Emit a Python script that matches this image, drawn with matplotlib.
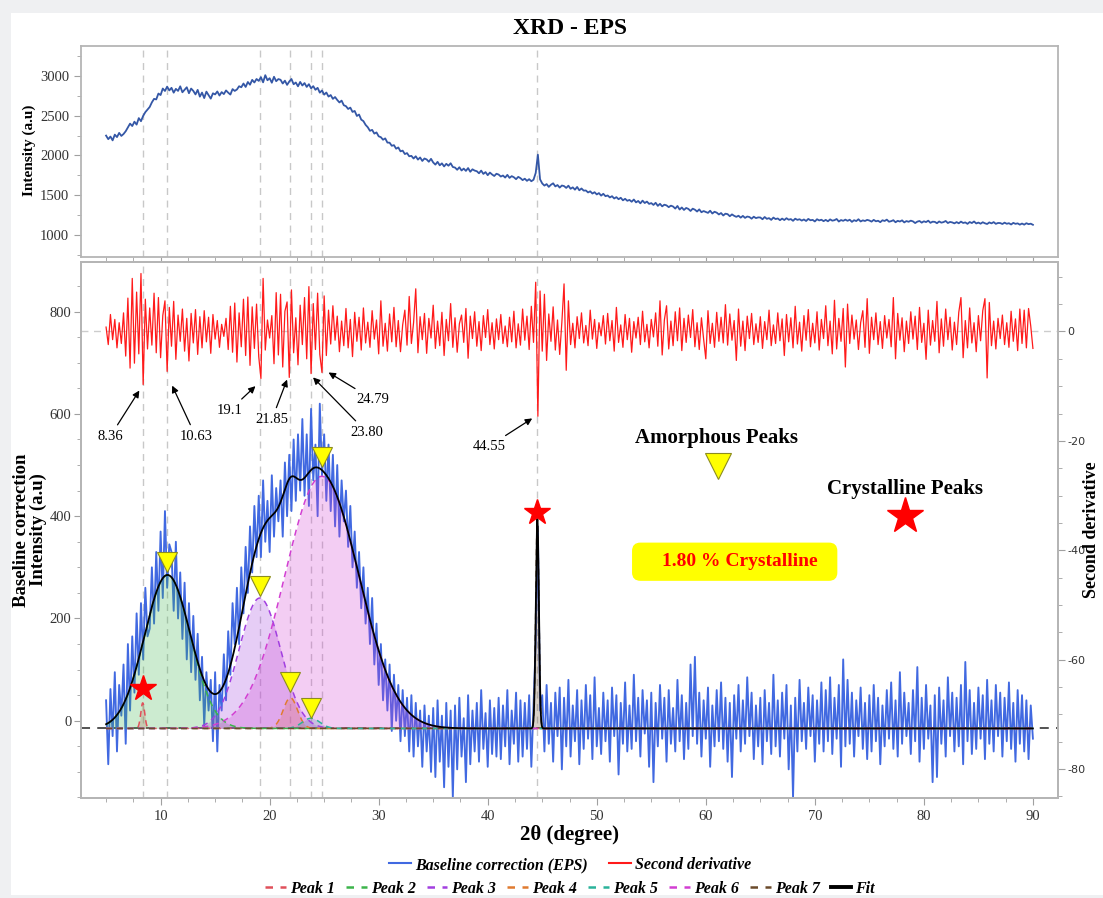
import numpy as np
import matplotlib
matplotlib.use("Agg")
import matplotlib.pyplot as plt
from matplotlib.lines import Line2D
from matplotlib.patches import Rectangle, FancyBboxPatch

plt.rcParams['font.family'] = ['Liberation Serif', 'DejaVu Serif']
plt.rcParams['axes.unicode_minus'] = False

# 2theta scan, 0.2 deg step (5 .. 90)
two_theta = np.round(5 + 0.2 * np.arange(426), 1)

# raw intensity (top panel)
raw_intensity = [
    2250, 2205, 2238, 2190, 2262, 2231, 2284, 2246, 2270, 2305,
    2352, 2401, 2370, 2425, 2388, 2470, 2431, 2498, 2545, 2577,
    2610, 2668, 2712, 2705, 2779, 2760, 2842, 2811, 2866, 2818,
    2851, 2790, 2838, 2812, 2870, 2795, 2826, 2858, 2783, 2842,
    2812, 2768, 2825, 2740, 2791, 2722, 2803, 2760, 2715, 2782,
    2768, 2805, 2754, 2797, 2772, 2818, 2790, 2766, 2835, 2812,
    2830, 2871, 2858, 2905, 2862, 2924, 2890, 2951, 2918, 2962,
    2938, 2985, 2920, 3010, 2946, 2972, 2915, 2990, 2934, 2961,
    2952, 2905, 2941, 2888, 2930, 2962, 2896, 2918, 2870, 2925,
    2880, 2911, 2862, 2897, 2845, 2872, 2826, 2851, 2790, 2818,
    2765, 2792, 2741, 2760, 2712, 2735, 2698, 2667, 2690, 2632,
    2620, 2585, 2602, 2548, 2560, 2497, 2515, 2451, 2432, 2385,
    2355, 2310, 2322, 2275, 2290, 2241, 2230, 2198, 2215, 2162,
    2161, 2122, 2130, 2085, 2101, 2052, 2061, 2018, 2030, 1990,
    1995, 1962, 1990, 1948, 1975, 1931, 1962, 1950, 1921, 1958,
    1912, 1885, 1920, 1876, 1901, 1862, 1895, 1871, 1902, 1855,
    1848, 1820, 1852, 1811, 1835, 1806, 1842, 1795, 1826, 1810,
    1802, 1776, 1810, 1768, 1791, 1752, 1785, 1761, 1742, 1770,
    1760, 1735, 1748, 1722, 1756, 1718, 1740, 1726, 1702, 1731,
    1715, 1690, 1708, 1681, 1702, 1676, 1695, 1780, 2010, 1700,
    1648, 1621, 1640, 1605, 1632, 1650, 1611, 1628, 1596, 1622,
    1615, 1592, 1620, 1581, 1599, 1570, 1604, 1562, 1585, 1558,
    1560, 1535, 1549, 1521, 1538, 1510, 1527, 1495, 1518, 1488,
    1497, 1472, 1488, 1459, 1476, 1450, 1468, 1436, 1455, 1430,
    1441, 1418, 1446, 1410, 1428, 1398, 1432, 1402, 1420, 1391,
    1401, 1378, 1405, 1366, 1392, 1360, 1381, 1372, 1350, 1369,
    1358, 1332, 1365, 1320, 1346, 1315, 1340, 1328, 1302, 1331,
    1318, 1295, 1322, 1286, 1301, 1290, 1278, 1305, 1270, 1292,
    1281, 1258, 1276, 1245, 1268, 1262, 1236, 1259, 1241, 1228,
    1242, 1218, 1240, 1215, 1232, 1226, 1205, 1230, 1212, 1221,
    1220, 1198, 1226, 1203, 1212, 1190, 1219, 1200, 1208, 1186,
    1206, 1188, 1211, 1192, 1200, 1178, 1205, 1190, 1198, 1181,
    1195, 1176, 1202, 1185, 1190, 1170, 1198, 1183, 1192, 1174,
    1190, 1172, 1196, 1180, 1186, 1201, 1169, 1188, 1178, 1193,
    1178, 1192, 1165, 1186, 1175, 1198, 1170, 1184, 1176, 1190,
    1182, 1168, 1190, 1172, 1179, 1161, 1185, 1176, 1193, 1167,
    1174, 1186, 1160, 1178, 1169, 1184, 1158, 1175, 1166, 1180,
    1171, 1150, 1168, 1176, 1155, 1172, 1162, 1180, 1153, 1167,
    1165, 1148, 1170, 1155, 1162, 1176, 1150, 1164, 1158, 1146,
    1162, 1147, 1168, 1151, 1158, 1140, 1163, 1150, 1170, 1145,
    1156, 1142, 1160, 1147, 1138, 1158, 1146, 1162, 1140, 1151,
    1150, 1138, 1155, 1141, 1148, 1132, 1152, 1140, 1146, 1130,
    1144, 1130, 1148, 1136, 1142, 1128,
]

# baseline corrected intensity (bottom panel, left axis)
baseline_corr = [
    40, -85, 62, -30, 95, -60, 70, 10, 110, -45,
    150, 20, 165, 55, 210, 90, 230, 120, 260, 165,
    180, 300, 190, 330, 215, 370, 240, 410, 260, 345,
    330, 215, 350, 200, 290, 160, 270, 120, 230, 95,
    205, 80, 170, 40, 125, -10, 95, 20, 80, -40,
    95, -60, 70, 20, 130, 40, 175, 90, 230, 150,
    260, 150, 300, 210, 340, 250, 380, 290, 420, 320,
    440, 320, 470, 350, 430, 330, 480, 360, 455, 390,
    470, 360, 505, 400, 520, 410, 550, 430, 560, 450,
    590, 440, 560, 420, 610, 470, 540, 400, 620, 480,
    560, 430, 540, 410, 520, 380, 500, 360, 470, 390,
    450, 340, 420, 300, 370, 260, 330, 220, 300, 190,
    260, 150, 240, 110, 190, 70, 150, 40, 120, 20,
    110, -20, 90, 0, 70, -40, 60, -30, 45, -60,
    50, -70, 35, -50, 20, -90, 30, -60, 10, -100,
    25, -110, 40, -80, 10, -130, 35, -90, 20, -150,
    30, -95, 45, -70, 5, -120, 50, -85, 20, -60,
    35, -80, 60, -55, 15, -90, 40, -65, 25, -70,
    45, -75, 30, -50, 60, -85, 20, -45, 55, -80,
    40, -70, 35, -55, 50, -90, 30, 150, 380, 20,
    50, -60, 70, -45, 35, -80, 55, -30, 65, -95,
    45, -50, 80, -70, 30, -40, 60, -85, 40, -55,
    70, -35, 50, -75, 85, -50, 25, -65, 55, -40,
    40, -80, 65, -30, 50, -105, 35, -45, 75, -60,
    30, -55, 90, -40, 45, -70, 60, -25, 40, -90,
    55, -120, 35, -50, 70, -35, 45, -80, 60, -45,
    25, -60, 80, -40, 50, -75, 35, -55, 110, -30,
    125, -45, 55, -70, 40, -35, 65, -90, 30, -50,
    60, -40, 75, -55, 45, -80, 35, -110, 50, -35,
    70, -60, 40, -45, 85, -30, 55, -75, 30, -50,
    45, -85, 60, -40, 35, -65, 90, -50, 40, -70,
    55, -35, 70, -95, 30, -150, 45, -60, 80, -40,
    35, -55, 65, -30, 50, -80, 40, -45, 75, -60,
    60, -40, 85, -65, 45, -35, 70, -90, 120, -50,
    80, -45, 55, -70, 40, -30, 65, -55, 35, -75,
    50, -60, 70, -40, 45, -85, 30, -50, 60, -35,
    75, -55, 40, -70, 95, -45, 55, -30, 35, -65,
    60, -40, 105, -80, 45, -55, 70, -35, 30, -120,
    50, -110, 65, -45, 40, -70, 85, -30, 55, -60,
    45, -50, 70, -85, 115, -40, 60, -65, 35, -55,
    65, -35, 50, -75, 80, -45, 40, -60, 70, -30,
    55, -70, 45, -40, 75, -55, 35, -80, 60, -45,
    50, -60, 40, -75, 30, -35,
]

# second derivative (bottom panel, right axis)
second_deriv = [
    0.8, -2.4, 3.1, -1.5, 2.2, -3.0, 1.6, -2.2, 3.4, -4.5,
    6.1, -6.7, 9.7, -5.8, 7.2, -4.1, 10.6, -9.7, 5.9, -3.2,
    4.3, -2.5, 7.0, -3.9, 6.2, -4.8, 2.9, 5.6, -7.3, 4.4,
    -2.7, 5.5, -5.1, 3.0, -1.8, 4.1, -3.6, 2.4, -5.4, 3.3,
    -2.1, 4.0, -4.2, 2.7, -3.0, 3.8, -1.9, 2.6, -4.0, 3.1,
    -1.4, 2.0, -2.9, 1.3, -0.9, 2.4, -3.3, 4.6, -3.8, 5.2,
    -5.6, 3.4, -2.8, 5.9, -4.4, 6.3, -6.2, 4.5, -3.1, 5.0,
    -4.6, -8.6, 9.7, -3.4, 2.1, -1.2, 2.9, -5.9, 7.1, -4.3,
    6.8, -6.5, 3.7, 5.4, -8.4, 7.6, -3.9, 2.5, -6.1, 4.8,
    -2.4, 6.2, -5.0, 8.2, -7.7, 5.1, -3.3, 7.0, -4.2, -7.5,
    6.5, -4.4, 3.9, -2.3, 4.7, -1.6, 2.8, -3.7, 1.9, -2.6,
    4.2, -3.0, 2.2, -4.6, 3.5, -1.8, 2.6, -3.4, 4.3, -2.1,
    1.7, -2.9, 3.8, -1.4, 2.1, -4.1, 5.6, -2.7, 1.5, -3.6,
    3.2, -1.9, 4.4, -2.8, 2.0, -3.7, 1.2, 3.9, -2.5, 6.4,
    -2.2, 1.6, 7.8, -3.9, 2.7, -1.5, 3.3, -4.0, 2.4, -1.2,
    4.8, -3.1, 1.9, -2.6, 3.5, -4.4, 2.2, -1.7, 5.1, -2.9,
    2.5, -3.8, 1.4, 3.0, -2.0, 4.2, -4.9, 2.8, -1.3, 3.6,
    -2.7, 1.8, -3.5, 2.9, -1.1, 4.0, -2.4, 1.6, -3.2, 2.3,
    -1.5, 3.1, -2.2, 1.0, -2.8, 2.6, -1.9, 3.7, -3.0, 1.4,
    -2.5, 4.1, -1.6, 2.8, -3.3, 4.6, -2.0, 9.0, -15.5, 7.4,
    -3.6, 6.8, -5.3, 3.2, -1.8, 4.5, -3.4, 2.1, -4.2, 1.7,
    8.7, -7.1, 5.6, -2.4, 1.5, -3.0, 2.7, -1.3, 3.4, -2.1,
    1.1, -2.6, 3.9, -1.4, 2.2, -3.1, 1.6, -0.8, 2.9, -2.3,
    3.3, -1.7, 2.0, -3.6, 4.4, -2.0, 1.2, -2.9, 3.1, -1.5,
    2.4, -3.8, 1.8, -1.2, 2.6, -2.4, 3.7, -1.9, 1.3, -3.0,
    2.2, -1.0, 3.4, -2.7, 5.6, -4.3, 2.1, 4.7, -3.2, 1.9,
    -2.6, 3.6, -1.7, 4.3, -3.5, 2.4, -2.0, 3.0, -1.1, 4.0,
    -2.8, 1.6, -3.3, 2.5, -1.4, -5.0, 3.8, -2.2, 1.5, -2.9,
    3.5, -1.8, 2.6, -2.1, 4.9, -2.5, 3.2, -1.6, 2.0, -5.3,
    4.1, -2.7, 1.9, -3.5, 2.8, -1.3, 3.3, -2.4, 1.4, -2.0,
    2.7, -3.1, 1.8, -1.5, 3.9, -2.6, 1.2, -2.2, 3.4, -1.7,
    2.3, -4.4, 3.1, -1.9, 2.5, -3.0, 4.6, -2.3, 1.7, -3.6,
    2.9, -1.6, 4.0, -2.8, 1.5, -2.1, 3.6, -3.4, 2.2, -1.3,
    4.7, -2.6, 1.9, -4.1, 5.7, -3.2, 2.4, -1.8, 4.2, -6.5,
    5.0, -2.2, 3.0, -1.4, 2.1, -3.3, 1.6, 3.8, -2.9, 6.0,
    -4.0, 2.6, -1.5, 3.4, -2.4, 1.8, -3.1, 2.9, -1.2, 2.2,
    -2.8, 6.2, -5.0, 3.3, -1.6, 2.5, -3.7, 1.9, -2.2, 3.6,
    -1.4, 2.8, -3.3, 4.4, -2.0, 1.5, -5.1, 3.9, -2.5, 2.0,
    -1.8, 5.5, -3.9, 2.3, -2.7, 4.1, -1.5, 2.6, -3.4, 1.7,
    -2.4, 3.5, 6.2, -4.8, 2.0, -3.0, 4.3, -2.1, 1.6, -3.7,
    2.9, -1.7, 3.8, 6.0, -8.5, 5.3, -2.6, 1.9, -3.2, 2.4,
    -1.3, 3.0, -2.4, 1.6, -2.9, 3.7, -1.8, 2.3, -3.5, 4.1,
    -2.2, 3.9, -3.0, 4.2, 1.0, -3.1,
]

# fitted peaks (gaussian): centre, height above baseline, sigma
peak_names = ['Peak 1', 'Peak 2', 'Peak 3', 'Peak 4', 'Peak 5', 'Peak 6', 'Peak 7']
peak_center = [8.36, 10.63, 19.1, 21.9, 23.80, 24.79, 44.55]
peak_height = [50, 300, 255, 60, 20, 493, 409]
peak_sigma = [0.18, 2.1, 1.9, 0.65, 0.8, 3.4, 0.14]
peak_colors = ['#e0505a', '#3cb44b', '#a23fe0', '#e07b30', '#2ab39a', '#d23ed2', '#6b4a2b']
baseline_level = -15

# second derivative minima labels
deriv_labels = ['8.36', '10.63', '19.1', '21.85', '23.80', '24.79', '44.55']
deriv_pos = [8.36, 10.63, 19.1, 21.85, 23.80, 24.79, 44.55]

# peak markers
amorph_x = [10.63, 19.1, 21.85, 23.80, 24.79]
amorph_y = [310, 263, 76, 25, 515]
cryst_x = [8.36, 44.55]
cryst_y = [65, 408]
crystallinity = 1.80

W, H = 1103, 898
fig = plt.figure(figsize=(W / 100, H / 100), dpi=100, facecolor='#eff0f2')
fig.patches.append(Rectangle((11 / W, 3 / H), 1 - 11 / W, 1 - 16 / H, transform=fig.transFigure,
                             facecolor='white', edgecolor='none', zorder=-5))

ax1 = fig.add_axes([81 / W, 1 - 257 / H, 977 / W, 211 / H])
ax2 = fig.add_axes([81 / W, 1 - 798 / H, 977 / W, 536 / H])
ax2r = ax2.twinx()

spine_c = '#b5b5b5'
for a in [ax1, ax2, ax2r]:
    for s in a.spines.values():
        s.set_color(spine_c)
        s.set_linewidth(1.3)
    a.tick_params(which='both', color='#a0a0a0', labelcolor='#333333', labelsize=10.5, direction='out')
    a.tick_params(which='major', length=5)
    a.tick_params(which='minor', length=3)

xlim = (2.7, 92.3)

# ---- top panel
ax1.plot(two_theta, raw_intensity, color='#3457a6', lw=1.3)
ax1.set_xlim(*xlim)
ax1.set_ylim(723, 3377)
ax1.set_xticks(np.arange(10, 91, 10))
ax1.set_xticks(np.arange(5, 91, 2.5), minor=True)
ax1.set_yticks([1000, 1500, 2000, 2500, 3000])
ax1.set_yticks(np.arange(750, 3376, 250), minor=True)
ax1.tick_params(axis='x', labelbottom=False)
for p in deriv_pos:
    ax1.axvline(p, color='#c8c8c8', ls=(0, (5, 4)), lw=1, zorder=0)

# ---- bottom panel
xf = np.linspace(5, 90, 8501)
comps = [h * np.exp(-(xf - c) ** 2 / (2 * s ** 2)) for c, h, s in zip(peak_center, peak_height, peak_sigma)]
# the drawn fit curve is smooth at 8.36, so peak 1 is left out of it
fit = baseline_level + np.sum(comps[1:], axis=0)

for p in deriv_pos:
    ax2.axvline(p, color='#c8c8c8', ls=(0, (5, 4)), lw=1, zorder=0)
ax2.axhline(baseline_level, color='#444444', ls=(0, (5, 4)), lw=1.3, zorder=1)
ax2.plot(two_theta, baseline_corr, color='#4169e1', lw=1.35, zorder=2)
for comp, col in zip(comps, peak_colors):
    ax2.fill_between(xf, baseline_level, baseline_level + comp, where=comp > 0.3,
                     color=col, alpha=0.26, lw=0, zorder=3)
for comp, col in zip(comps, peak_colors):
    ax2.plot(xf, baseline_level + comp, color=col, ls=(0, (4, 3)), lw=1.1, zorder=4)
ax2.plot(xf, fit, color='black', lw=1.3, zorder=5)

ax2.plot(amorph_x, amorph_y, ls='none', marker='v', ms=15, mfc='#ffff00', mec='#8c8c20', mew=0.8, zorder=6)
ax2.plot(cryst_x, cryst_y, ls='none', marker='*', ms=19, mfc='#ff0000', mec='#ff0000', zorder=6)

ax2.set_xlim(*xlim)
ax2.set_ylim(-151, 897)
ax2.set_xticks(np.arange(10, 91, 10))
ax2.set_xticks(np.arange(5, 91, 2.5), minor=True)
ax2.set_yticks([0, 200, 400, 600, 800])
ax2.set_yticks(np.arange(-150, 897, 50), minor=True)
ax2.tick_params(axis='y', pad=2)

# peak key inside the plot
ax2.text(61.0, 553, 'Amorphous Peaks', ha='center', va='center', fontsize=15, fontweight='bold')
ax2.plot([61.1], [498], ls='none', marker='v', ms=19, mfc='#ffff00', mec='#8c8c20', mew=0.8)
ax2.text(78.3, 453, 'Crystalline Peaks', ha='center', va='center', fontsize=15, fontweight='bold')
ax2.plot([78.3], [400], ls='none', marker='*', ms=27, mfc='#ff0000', mec='#ff0000')

box = FancyBboxPatch((53.3, 275), 18.7, 72, boxstyle='round,pad=0,rounding_size=0.7',
                     mutation_aspect=21.3, facecolor='#ffff00', edgecolor='#ffff00', zorder=6)
ax2.add_patch(box)
ax2.text(63.1, 311, '%.2f %% Crystalline' % crystallinity, ha='center', va='center',
         fontsize=14, fontweight='bold', color='#ff0000', zorder=7)

# second derivative on right axis
ax2r.axhline(0, color='#cccccc', ls=(0, (5, 4)), lw=1, zorder=1)
ax2r.plot(two_theta, second_deriv, color='#ff1a1a', lw=0.9, zorder=3)
ax2r.set_ylim(-85.3, 12.7)
ax2r.set_yticks([-80, -60, -40, -20, 0])
ax2r.set_yticks(np.arange(-85, 13, 5), minor=True)
ax2r.tick_params(axis='y', pad=1.5)
for t in ax2r.get_yticklabels():
    t.set_fontfamily('DejaVu Sans')
    t.set_fontsize(8)

tip_x = [8.05, 11.06, 18.7, 21.6, 23.98, 25.4, 44.08]
tip_y = [-10.8, -9.9, -10.0, -8.8, -8.4, -7.5, -15.9]
txt_x = [5.37, 13.23, 16.34, 20.2, 28.9, 29.45, 40.1]
txt_y = [-19.2, -19.2, -14.4, -16.1, -18.4, -12.4, -21.0]
for lab, tx, ty, sx, sy in zip(deriv_labels, tip_x, tip_y, txt_x, txt_y):
    ax2r.annotate(lab, xy=(tx, ty), xytext=(sx, sy), ha='center', va='center', fontsize=10.5,
                  arrowprops=dict(arrowstyle='-|>', color='black', lw=0.9, mutation_scale=10,
                                  shrinkA=2, shrinkB=0))

# labels
fig.text(0.5168, 0.968, 'XRD - EPS', ha='center', va='center', fontsize=17, fontweight='bold')
fig.text(29 / W, 1 - 150 / H, 'Intensity (a.u)', ha='center', va='center', rotation=90,
         fontsize=11, fontweight='bold')
fig.text(30 / W, 1 - 530 / H, 'Baseline correction\nIntensity (a.u)', ha='center', va='center',
         rotation=90, fontsize=13.5, fontweight='bold', linespacing=0.95)
fig.text(1092 / W, 1 - 530 / H, 'Second derivative', ha='center', va='center', rotation=90,
         fontsize=13, fontweight='bold')
fig.text(570 / W, 1 - 835 / H, '2θ (degree)', ha='center', va='center', fontsize=15, fontweight='bold')

leg_font = dict(family='Liberation Serif', style='italic', weight='bold', size=11.5)
h1 = [Line2D([], [], color='#4169e1', lw=1.5), Line2D([], [], color='#ff1a1a', lw=1.5)]
fig.legend(h1, ['Baseline correction (EPS)', 'Second derivative'], loc='center',
           bbox_to_anchor=(570 / W, 1 - 865 / H), ncol=2, frameon=False, prop=leg_font,
           handlelength=1.4, handletextpad=0.25, columnspacing=1.3)
h2 = [Line2D([], [], color=c, lw=1.8, ls=(0, (3, 3))) for c in peak_colors]
h2.append(Line2D([], [], color='black', lw=2.8))
fig.legend(h2, peak_names + ['Fit'], loc='center', bbox_to_anchor=(570 / W, 1 - 889 / H),
           ncol=8, frameon=False, prop=leg_font, handlelength=1.3, handletextpad=0.25,
           columnspacing=0.7)

fig.savefig('out.png', dpi=100, facecolor=fig.get_facecolor())
